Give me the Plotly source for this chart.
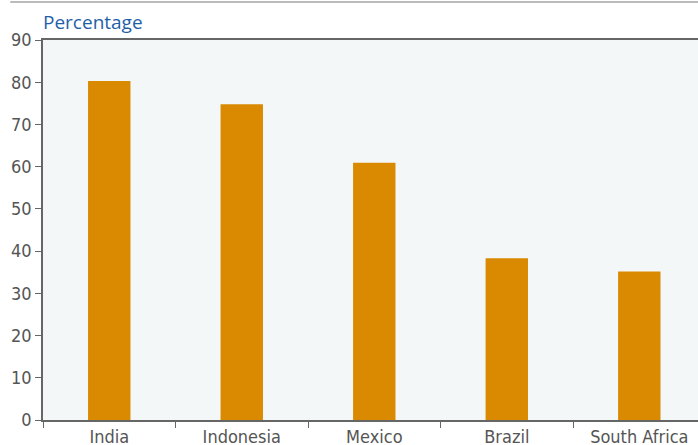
import plotly.graph_objects as go

categories = ["India", "Indonesia", "Mexico", "Brazil", "South Africa"]
values = [80.3, 74.8, 60.9, 38.3, 35.2]
y_ticks = [0, 10, 20, 30, 40, 50, 60, 70, 80, 90]

FONT = "DejaVu Sans Condensed"

fig = go.Figure(go.Bar(x=categories, y=values, marker=dict(color="#D98A00", line=dict(width=0)), width=0.32))

fig.update_layout(
    width=698, height=445,
    margin=dict(l=43, r=0, t=40, b=25),
    paper_bgcolor="white", plot_bgcolor="#F3F7F8",
    showlegend=False,
    font=dict(family=FONT, size=18, color="#555555"),
    annotations=[dict(text="Percentage", xref="paper", yref="paper", x=0, y=1, xanchor="left", yanchor="bottom",
                      yshift=3, xshift=-2, showarrow=False,
                      font=dict(family="Open Sans, DejaVu Sans, sans-serif", size=19, color="#1F5FA8"))],
    shapes=[dict(type="line", xref="paper", yref="paper", x0=-0.05, x1=1, y0=1.1, y1=1.1,
                 line=dict(color="#BBBBBB", width=2))],
)
fig.update_xaxes(type="category", range=[-0.5, 4.443], tickson="boundaries", ticks="outside", ticklen=6,
                 tickcolor="#666666", showline=True, linecolor="#666666", linewidth=1.5, mirror=True,
                 showgrid=False, automargin=False, tickfont=dict(size=18, color="#555555"))
fig.update_yaxes(range=[0, 90], tickvals=y_ticks, ticks="outside", ticklen=6, tickcolor="#666666",
                 showline=True, linecolor="#666666", linewidth=1.5, showgrid=False, zeroline=False,
                 automargin=False, tickfont=dict(size=18, color="#555555"))

fig.write_html("out.html")
